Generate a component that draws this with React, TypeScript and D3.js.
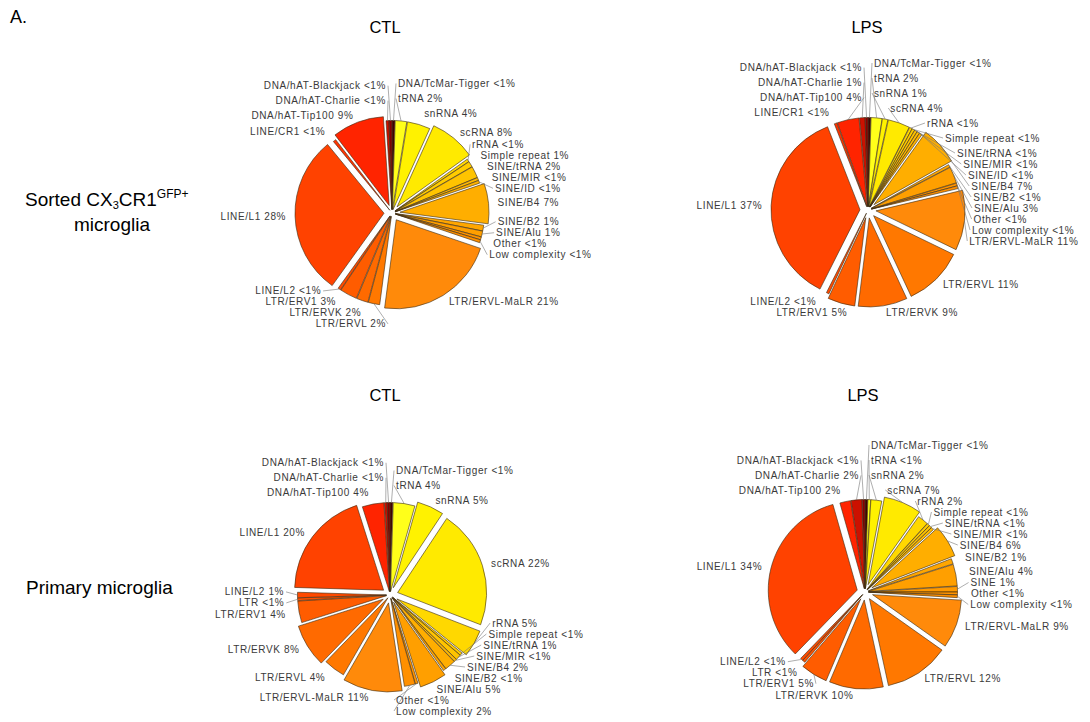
import { useEffect, useRef } from "react"
import * as d3 from "d3"

// slice order, clockwise from 12 o'clock; values in %, <1% stored as 0.5
const sortedCtlCats = ["DNA/TcMar-Tigger", "tRNA", "snRNA", "scRNA", "rRNA", "Simple repeat", "SINE/tRNA", "SINE/MIR", "SINE/ID", "SINE/B4", "SINE/B2", "SINE/Alu", "Other", "Low complexity", "LTR/ERVL-MaLR", "LTR/ERVL", "LTR/ERVK", "LTR/ERV1", "LINE/L2", "LINE/L1", "LINE/CR1", "DNA/hAT-Tip100", "DNA/hAT-Charlie", "DNA/hAT-Blackjack"]
const sortedCtlValues = [0.5, 2, 4, 8, 0.5, 1, 2, 0.5, 0.5, 7, 1, 1, 0.5, 0.5, 21, 2, 2, 3, 0.5, 28, 0.5, 9, 0.5, 0.5]

const sortedLpsCats = ["DNA/TcMar-Tigger", "tRNA", "snRNA", "scRNA", "rRNA", "Simple repeat", "SINE/tRNA", "SINE/MIR", "SINE/ID", "SINE/B4", "SINE/B2", "SINE/Alu", "Other", "Low complexity", "LTR/ERVL-MaLR", "LTR/ERVL", "LTR/ERVK", "LTR/ERV1", "LINE/L2", "LINE/L1", "LINE/CR1", "DNA/hAT-Tip100", "DNA/hAT-Charlie", "DNA/hAT-Blackjack"]
const sortedLpsValues = [0.5, 2, 1, 4, 0.5, 0.5, 0.5, 0.5, 0.5, 7, 0.5, 3, 0.5, 0.5, 11, 11, 9, 5, 0.5, 37, 0.5, 4, 1, 0.5]

const primaryCtlCats = ["DNA/TcMar-Tigger", "tRNA", "snRNA", "scRNA", "rRNA", "Simple repeat", "SINE/tRNA", "SINE/MIR", "SINE/B4", "SINE/B2", "SINE/Alu", "Other", "Low complexity", "LTR/ERVL-MaLR", "LTR/ERVL", "LTR/ERVK", "LTR/ERV1", "LTR", "LINE/L2", "LINE/L1", "DNA/hAT-Tip100", "DNA/hAT-Charlie", "DNA/hAT-Blackjack"]
const primaryCtlValues = [0.5, 4, 5, 22, 5, 0.5, 1, 0.5, 2, 0.5, 5, 0.5, 2, 11, 4, 8, 4, 0.5, 1, 20, 4, 0.5, 0.5]

const primaryLpsCats = ["DNA/TcMar-Tigger", "tRNA", "snRNA", "scRNA", "rRNA", "Simple repeat", "SINE/tRNA", "SINE/MIR", "SINE/B4", "SINE/B2", "SINE/Alu", "SINE", "Other", "Low complexity", "LTR/ERVL-MaLR", "LTR/ERVL", "LTR/ERVK", "LTR/ERV1", "LTR", "LINE/L2", "LINE/L1", "DNA/hAT-Tip100", "DNA/hAT-Charlie", "DNA/hAT-Blackjack"]
const primaryLpsValues = [0.5, 0.5, 2, 7, 2, 0.5, 0.5, 0.5, 6, 1, 4, 1, 0.5, 0.5, 9, 12, 10, 5, 0.5, 0.5, 34, 2, 2, 0.5]

const colTitles = ["CTL", "LPS"]

const palette: Record<string, string> = {
  "tRNA": "#ffff1a",
  "snRNA": "#fff200",
  "scRNA": "#ffea00",
  "rRNA": "#ffd800",
  "Simple repeat": "#ffcc00",
  "SINE/tRNA": "#ffc400",
  "SINE/MIR": "#ffbb00",
  "SINE/ID": "#ffb400",
  "SINE/B4": "#ffae00",
  "SINE/B2": "#ffa600",
  "SINE/Alu": "#ff9f00",
  "SINE": "#ff9900",
  "Other": "#ff9400",
  "Low complexity": "#ff9000",
  "LTR/ERVL-MaLR": "#ff8a0a",
  "LTR/ERVL": "#ff7800",
  "LTR/ERVK": "#ff6a00",
  "LTR/ERV1": "#ff5c00",
  "LTR": "#ff5200",
  "LINE/L2": "#ff4a00",
  "LINE/L1": "#ff4200",
  "LINE/CR1": "#ff3300",
  "DNA/hAT-Tip100": "#ff2400",
  "DNA/hAT-Charlie": "#cc1100",
  "DNA/hAT-Blackjack": "#880000",
  "DNA/TcMar-Tigger": "#440000",
}

const fmt = (v: number) => (v < 1 ? "<1%" : `${v}%`)

type Label = { text: string; side: number; y0: number; y: number; x: number; ex: number; ey: number }

function drawPie(
  g: d3.Selection<SVGGElement, unknown, null, undefined>,
  cats: string[],
  values: number[],
  cx: number,
  cy: number,
) {
  const r = 89
  const rl = 104
  const gap = 11
  const topGap = 15
  const minY = -(r + 58)
  const maxY = r + 27
  const pie = d3.pie<number>().sort(null).value((d) => d)
  const arcs = pie(values)
  const arc = d3.arc<d3.PieArcDatum<number>>().innerRadius(0).outerRadius(r)
  const off = (v: number) => (v >= 5 ? 8 : 3.5)

  const pg = g.append("g").attr("transform", `translate(${cx},${cy})`)
  pg.selectAll("path")
    .data(arcs)
    .enter()
    .append("path")
    .attr("transform", (d) => {
      const m = (d.startAngle + d.endAngle) / 2
      const o = off(d.data)
      return `translate(${o * Math.sin(m)},${-o * Math.cos(m)})`
    })
    .attr("d", arc)
    .attr("fill", (d, i) => palette[cats[i]])
    .attr("stroke", "#3a2a10")
    .attr("stroke-width", 0.6)

  const labels: Label[] = arcs.map((d, i) => {
    const m = (d.startAngle + d.endAngle) / 2
    const side = Math.sin(m) >= 0 ? 1 : -1
    const ro = r + off(d.data)
    return {
      text: `${cats[i]} ${fmt(values[i])}`,
      side,
      y0: -rl * Math.cos(m),
      y: -rl * Math.cos(m),
      x: 0,
      ex: ro * Math.sin(m),
      ey: -ro * Math.cos(m),
    }
  })

  // spread labels on each side; labels near the top stack upwards
  const isTop = (l: Label) => l.y0 < -0.85 * rl
  ;[-1, 1].forEach((side) => {
    const list = labels.filter((l) => l.side === side).sort((a, b) => a.y0 - b.y0)
    const need = (i: number) => (isTop(list[i - 1]) && isTop(list[i]) ? topGap : gap)
    for (let it = 0; it < 500; it++) {
      let moved = false
      for (let i = 1; i < list.length; i++) {
        const top = isTop(list[i - 1]) && isTop(list[i])
        const ov = need(i) - (list[i].y - list[i - 1].y)
        if (ov > 0.01) {
          if (top) {
            list[i - 1].y -= ov
          } else {
            list[i - 1].y -= ov / 2
            list[i].y += ov / 2
          }
          moved = true
        }
      }
      if (!moved) break
    }
    // keep the stacks within reach of the pie
    if (list.length && list[0].y < minY) {
      list[0].y = minY
      for (let i = 1; i < list.length; i++) list[i].y = Math.max(list[i].y, list[i - 1].y + need(i))
    }
    const n = list.length
    if (n && list[n - 1].y > maxY) {
      list[n - 1].y = maxY
      for (let i = n - 2; i >= 0; i--) list[i].y = Math.min(list[i].y, list[i + 1].y - need(i + 1))
    }
    list.forEach((l) => {
      const dx = Math.sqrt(Math.max(rl * rl - l.y * l.y, 0))
      l.x = side * Math.max(dx, 4)
    })
  })

  const lg = pg.append("g")
  labels.forEach((l) => {
    if (Math.abs(l.y - l.y0) > 3) {
      lg.append("polyline")
        .attr("points", `${l.ex},${l.ey} ${l.x},${l.y}`)
        .attr("fill", "none")
        .attr("stroke", "#777")
        .attr("stroke-width", 0.6)
    }
    lg.append("text")
      .attr("x", l.x + l.side * 2)
      .attr("y", l.y)
      .attr("dy", "0.35em")
      .attr("text-anchor", l.side > 0 ? "start" : "end")
      .attr("font-size", 10)
      .attr("letter-spacing", 0.6)
      .attr("fill", "#3a3a3a")
      .text(l.text)
  })
}

export default function App() {
  const svgRef = useRef<SVGSVGElement | null>(null)

  useEffect(() => {
    const svg = d3.select(svgRef.current)
    svg.selectAll("*").remove()
    const g = svg.append("g")

    svg.append("text").attr("x", 10).attr("y", 23).attr("font-size", 18).text("A.")

    // column titles
    ;[33, 401].forEach((y, row) => {
      colTitles.forEach((t, i) => {
        svg.append("text")
          .attr("x", i === 0 ? 385 : row === 0 ? 867 : 863)
          .attr("y", y)
          .attr("text-anchor", "middle")
          .attr("font-size", 16.5)
          .text(t)
      })
    })

    // row labels
    const row1 = svg.append("text").attr("x", 25).attr("y", 206).attr("font-size", 19)
    row1.append("tspan").text("Sorted CX")
    row1.append("tspan").attr("font-size", 11).attr("dy", 3).text("3")
    row1.append("tspan").attr("dy", -3).text("CR1")
    row1.append("tspan").attr("font-size", 12).attr("dy", -8).text("GFP+")
    svg.append("text").attr("x", 112).attr("y", 231).attr("text-anchor", "middle").attr("font-size", 19).text("microglia")
    svg.append("text").attr("x", 26).attr("y", 594).attr("font-size", 19).text("Primary microglia")

    drawPie(g, sortedCtlCats, sortedCtlValues, 392, 213)
    drawPie(g, sortedLpsCats, sortedLpsValues, 868, 210)
    drawPie(g, primaryCtlCats, primaryCtlValues, 390, 595)
    drawPie(g, primaryLpsCats, primaryLpsValues, 865, 592)
  }, [])

  return (
    <div style={{ position: "fixed", left: 0, top: 0 }}>
      <svg
        ref={svgRef}
        width={1090}
        height={722}
        style={{ display: "block", background: "#fff", fontFamily: "'Liberation Sans', Arial, sans-serif" }}
      />
    </div>
  )
}
